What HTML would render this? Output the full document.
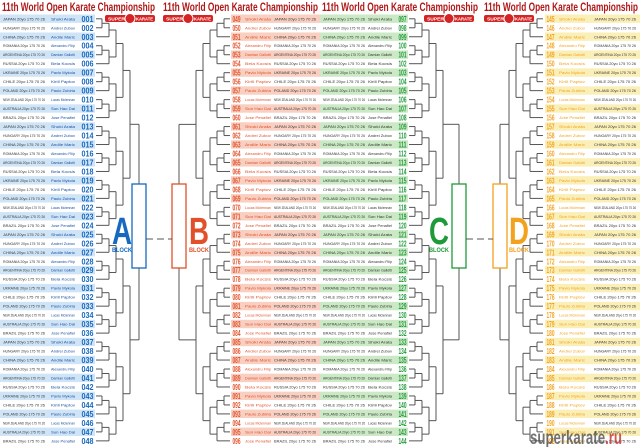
<!DOCTYPE html>
<html><head><meta charset="utf-8">
<style>
html,body{margin:0;padding:0;background:#fff;}
body{width:640px;height:447px;overflow:hidden;position:relative;font-family:"Liberation Sans",sans-serif;}
svg{position:absolute;left:0;top:0;}
</style></head>
<body>
<svg id="s" width="640" height="447" viewBox="0 0 640 447" xmlns="http://www.w3.org/2000/svg">
<g font-family="Liberation Sans, sans-serif" font-weight="bold" fill="#b01818" font-size="11.5">
<text x="2" y="11" textLength="153" lengthAdjust="spacingAndGlyphs">11th World Open Karate Championship</text>
<text x="163" y="11" textLength="155" lengthAdjust="spacingAndGlyphs">11th World Open Karate Championship</text>
<text x="322" y="11" textLength="156" lengthAdjust="spacingAndGlyphs">11th World Open Karate Championship</text>
<text x="484" y="11" textLength="154" lengthAdjust="spacingAndGlyphs">11th World Open Karate Championship</text>
</g>
<g id="logos"></g>
<g id="rows"></g>
<g id="lines" stroke="#555" stroke-width="1" fill="none"></g>
<g id="blocks"></g>
<text x="530" y="444" font-size="19" font-weight="bold" fill="#444" fill-opacity="0.75" textLength="92" lengthAdjust="spacingAndGlyphs">superkarate<tspan fill="#c02020">.ru</tspan></text>
</svg>
<script>
var NS="http://www.w3.org/2000/svg";
function el(p,t,a,txt){var e=document.createElementNS(NS,t);for(var k in a)e.setAttribute(k,a[k]);if(txt!=null)e.textContent=txt;document.getElementById(p).appendChild(e);return e;}
function Y(i){return 18.8+i*8.98;}
[105,163,424,484].forEach(function(x){
 el("logos","rect",{x:x,y:15,width:50,height:7,rx:2,fill:"#d42424"});
 el("logos","circle",{cx:x+25,cy:18.5,r:5,fill:"#d42424",stroke:"#fff","stroke-width":1});
 el("logos","text",{x:x+3,y:20.3,"font-size":"4.5","font-weight":"bold",fill:"#fff",textLength:"17",lengthAdjust:"spacingAndGlyphs"},"SUPER");
 el("logos","text",{x:x+31,y:20.3,"font-size":"4.5","font-weight":"bold",fill:"#fff",textLength:"17",lengthAdjust:"spacingAndGlyphs"},"KARATE");
});
var countries=["JAPAN","HUNGARY","CHINA","ROMANIA","ARGENTINA","RUSSIA","UKRAINE","CHILE","POLAND","NEW ZEALAND","AUSTRALIA","BRAZIL"];
var names=["Shoki Arata","Bela Kocsis","Sun Hao Dai","Alexandru Filip","Paulo Zubiria","Andrei Zubov","Pavlo Mykola","Jose Penafiel","Damian Gallotti","Lucas Mclennan","Andile Maric","Kirill Paptov"];
var B=[
 {id:"A",start:1,tx:0,tw:80,nx:80,nw:15,side:"L",col:"#1769c0",bg:"#cfe5f7",x0:96,dir:1,L:[102,109,116,123,130],cx:139,rx:132,lx:122},
 {id:"B",start:49,tx:242,tw:78,nx:231,nw:11,side:"R",col:"#e2502a",bg:"#f8cfc0",x0:230,dir:-1,L:[224,217,210,203,196],cx:179,rx:172,lx:199},
 {id:"C",start:97,tx:320,tw:77,nx:397,nw:11,side:"L",col:"#1f9a3a",bg:"#cbe9c5",x0:409,dir:1,L:[415,422,429,436,443],cx:459,rx:452,lx:439},
 {id:"D",start:145,tx:556,tw:84,nx:545,nw:11,side:"R",col:"#f3a21d",bg:"#fbefb8",x0:543,dir:-1,L:[537,530,523,516,509],cx:500,rx:493,lx:519}
];
function line(x1,y1,x2,y2){el("lines","line",{x1:x1,y1:y1,x2:x2,y2:y2});}
B.forEach(function(b){
 for(var i=0;i<48;i++){
  var y=Y(i),hl=(i%2==0);
  if(hl){el("rows","rect",{x:b.tx,y:y-4.3,width:b.tw,height:8.4,fill:b.bg});
         el("rows","rect",{x:b.nx,y:y-4.3,width:b.nw,height:8.4,fill:b.bg});}
  var n=("00"+(b.start+i)).slice(-3);
  el("rows","text",{x:b.nx+b.nw/2,y:y+3,"font-size":"8.5","font-weight":"bold",fill:b.col,"text-anchor":"middle",textLength:b.nw-3,lengthAdjust:"spacingAndGlyphs"},n);
  var c=countries[i%12],nm=names[(i*5)%12];
  var info=c+"  20yo 175 70 26";
  if(b.side=="L"){
   el("rows","text",{x:b.tx+3,y:y+1.5,"font-size":"3.8",fill:"#333",textLength:"42",lengthAdjust:"spacingAndGlyphs"},info);
   el("rows","text",{x:b.tx+b.tw-29,y:y+1.5,"font-size":"3.8",fill:b.id=="A"?"#1a4fa0":"#333",textLength:"24",lengthAdjust:"spacingAndGlyphs"},nm);
  }else{
   el("rows","text",{x:b.tx+3,y:y+1.5,"font-size":"3.8",fill:b.col,textLength:"26",lengthAdjust:"spacingAndGlyphs"},nm);
   el("rows","text",{x:b.tx+b.tw-46,y:y+1.5,"font-size":"3.8",fill:"#333",textLength:"42",lengthAdjust:"spacingAndGlyphs"},info);
  }
 }
 var L=b.L,pts=[];
 for(var g=0;g<16;g++){
  var ya=Y(g*3),yb=Y(g*3+1),yc=Y(g*3+2);
  line(b.x0,ya,L[0],ya);line(b.x0,yb,L[0],yb);line(L[0],ya,L[0],yb);
  var m=(ya+yb)/2;line(L[0],m,L[1],m);line(b.x0,yc,L[1],yc);line(L[1],m,L[1],yc);
  pts.push({x:L[1],y:(m+yc)/2});
 }
 for(var lv=2;lv<5;lv++){
  var np=[];
  for(var k=0;k<pts.length;k+=2){
   var p=pts[k],q=pts[k+1];
   line(p.x,p.y,L[lv],p.y);line(q.x,q.y,L[lv],q.y);line(L[lv],p.y,L[lv],q.y);
   np.push({x:L[lv],y:(p.y+q.y)/2});
  }
  pts=np;
 }
 line(pts[0].x,pts[0].y,b.cx,pts[0].y);line(b.cx,pts[0].y,b.cx,184);
 line(pts[1].x,pts[1].y,b.cx,pts[1].y);line(b.cx,pts[1].y,b.cx,268);
 el("blocks","rect",{x:b.rx,y:184,width:14,height:84,fill:"#fff",stroke:b.col,"stroke-width":1.3});
 el("blocks","text",{x:b.lx,y:244,"font-size":"38","font-weight":"bold",fill:b.col,"text-anchor":"middle",textLength:"20",lengthAdjust:"spacingAndGlyphs"},b.id);
 el("blocks","text",{x:b.lx,y:252,"font-size":"6","font-weight":"bold",fill:b.col,"text-anchor":"middle",textLength:"20",lengthAdjust:"spacingAndGlyphs"},"BLOCK");
});
el("blocks","line",{x1:146,y1:239,x2:172,y2:239,stroke:"#555","stroke-dasharray":"7,4"});
el("blocks","line",{x1:466,y1:239,x2:493,y2:239,stroke:"#555","stroke-dasharray":"7,4"});
</script>
</body></html>
